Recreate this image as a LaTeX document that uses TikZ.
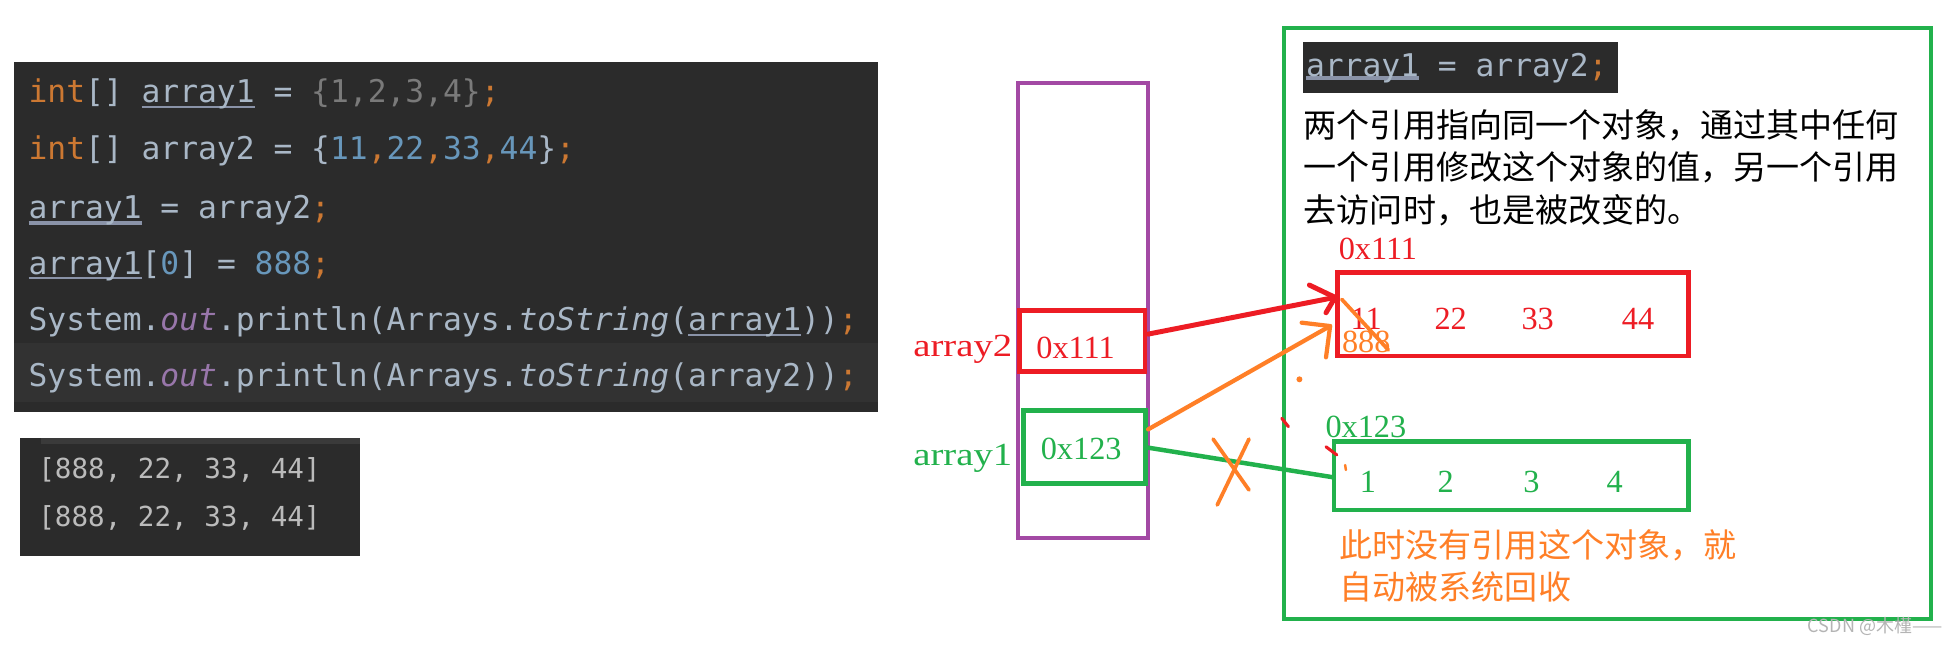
\documentclass[tikz,border=0pt]{standalone}
\usepackage{fontspec}
\usepackage{graphicx}
\newfontfamily\codefont{DejaVu Sans Mono}
\newfontfamily\lsfont{Liberation Serif}
\newfontfamily\cjk{Noto Sans CJK SC}
\definecolor{cbg}{HTML}{2B2B2B}
\definecolor{cband}{HTML}{323232}
\definecolor{cstrip}{HTML}{3A3A3A}
\definecolor{ctx}{HTML}{A9B7C6}
\definecolor{ckw}{HTML}{CC7832}
\definecolor{cnum}{HTML}{6897BB}
\definecolor{cpur}{HTML}{9876AA}
\definecolor{cgray}{HTML}{7A7A7A}
\definecolor{cul}{HTML}{8A93A8}
\definecolor{cout}{HTML}{BBBBBB}
\definecolor{pred}{HTML}{ED1C24}
\definecolor{pgreen}{HTML}{22B14C}
\definecolor{ppurple}{HTML}{A349A4}
\definecolor{porange}{HTML}{FF7F27}
\definecolor{wmark}{HTML}{B4B4B4}
\newcommand\myul[3]{\setbox0\hbox{#3}\rlap{\textcolor{cul}{\rule[-#1]{\wd0}{#2}}}\box0\relax}
\tikzset{
  code/.style={anchor=base west, inner sep=0pt, outer sep=0pt, font=\codefont\fontsize{25.2}{30}\selectfont, text=ctx},
  outtxt/.style={anchor=base west, inner sep=0pt, outer sep=0pt, font=\codefont\fontsize{22.2}{26}\selectfont, text=cout},
  lab/.style={anchor=base, inner sep=0pt, outer sep=0pt, font=\lsfont\fontsize{26}{30}\selectfont},
  cjktxt/.style={anchor=base west, inner sep=0pt, outer sep=0pt, font=\cjk\fontsize{26.6}{30}\selectfont},
  box/.style={draw=#1, line width=3.8pt, inner sep=0pt, outer sep=0pt, fill=none},
  hand/.style={line width=#1, line cap=round, line join=round},
}
\begin{document}
\begin{tikzpicture}[x=1pt,y=-1pt]
\useasboundingbox (0,0) rectangle (1570,519.3);
\fill[white] (0,0) rectangle (1570,519.3);

% ---- code panel ----
\fill[cbg] (11.6,49.7) rectangle (706.7,331.5);
\fill[cband] (11.6,276) rectangle (706.7,324);
\node[code] (c1) at (23,82.7) {{\color{ckw}int}[] \myul{4.2pt}{1.3pt}{array1} = {\color{cgray}\{1,2,3,4\}}{\color{ckw};}};
\node[code] (c2) at (23,128.6) {{\color{ckw}int}[] array2 = \{{\color{cnum}11}{\color{ckw},}{\color{cnum}22}{\color{ckw},}{\color{cnum}33}{\color{ckw},}{\color{cnum}44}\}{\color{ckw};}};
\node[code] (c3) at (23,175.6) {\myul{5.2pt}{2.8pt}{array1} = array2{\color{ckw};}};
\node[code] (c4) at (23,220.7) {\myul{4.0pt}{1.3pt}{array1}[{\color{cnum}0}] = {\color{cnum}888}{\color{ckw};}};
\node[code] (c5) at (23,266.2) {System.{\color{cpur}\itshape out}.println(Arrays.{\itshape toString}(\myul{4.4pt}{1.3pt}{array1})){\color{ckw};}};
\node[code] (c6) at (23,311.2) {System.{\color{cpur}\itshape out}.println(Arrays.{\itshape toString}(array2)){\color{ckw};}};

% ---- output panel ----
\fill[cbg] (16,353) rectangle (290,448);
\fill[cstrip] (33,353) rectangle (290,357.5);
\node[outtxt] (o1) at (30.9,385) {[888, 22, 33, 44]};
\node[outtxt] (o2) at (30.9,424) {[888, 22, 33, 44]};

% ---- right frame ----
\node[box=pgreen, line width=3.2pt, minimum width=520.7pt, minimum height=476.3pt] (frame) at (1294.15,260.35) {};
\fill[cbg] (1048.7,34) rectangle (1303,75);
\node[code] (snip) at (1051.5,61.5) {\myul{3pt}{3pt}{array1} = array2{\color{ckw};}};
\node[cjktxt, text=black] (t1) at (1049.8,110.7) {两个引用指向同一个对象，通过其中任何};
\node[cjktxt, text=black] (t2) at (1049.8,144.3) {一个引用修改这个对象的值，另一个引用};
\node[cjktxt, text=black] (t3) at (1049.8,179.1) {去访问时，也是被改变的。};
\node[cjktxt, text=porange] (g1) at (1078.7,449) {此时没有引用这个对象，就};
\node[cjktxt, text=porange] (g2) at (1078.7,482.5) {自动被系统回收};

% ---- stack ----
\node[box=ppurple, line width=3.2pt, minimum width=104.4pt, minimum height=366.6pt] (stack) at (872.1,249.9) {};
\node[box=pred, minimum width=101.2pt, minimum height=49.3pt] (ref2) at (871.3,274.65) {};
\node[box=pgreen, minimum width=98.5pt, minimum height=58.8pt] (ref1) at (873,359.9) {};
\node[lab, text=pred] (v2) at (866,288.8) {0x111};
\node[lab, text=pgreen] (v1) at (870.5,369.8) {0x123};
\node[lab, anchor=base east, text=pred] (n2) at (815,286.8) {\scalebox{1.2}[1]{array2}};
\node[lab, anchor=base east, text=pgreen] (n1) at (815,375) {\scalebox{1.2}[1]{array1}};

% ---- heap objects ----
\node[box=pred, minimum width=282.6pt, minimum height=67.3pt] (objB) at (1218,252.95) {};
\node[box=pgreen, minimum width=285.3pt, minimum height=55.3pt] (objA) at (1216.65,382.95) {};
\node[lab, text=pred] (addrB) at (1109.4,208.8) {0x111};
\node[lab, text=pgreen] (addrA) at (1099.7,352.1) {0x123};
\node[lab, text=pred] (b1) at (1100,265.5) {11};
\node[lab, text=pred] (b2) at (1168,265.5) {22};
\node[lab, text=pred] (b3) at (1238,265.5) {33};
\node[lab, text=pred] (b4) at (1318.8,265.5) {44};
\node[lab, text=porange] (b0) at (1100,284) {888};
\node[lab, text=pgreen] (a1) at (1101.3,396.4) {1};
\node[lab, text=pgreen] (a2) at (1164,396.4) {2};
\node[lab, text=pgreen] (a3) at (1233,396.4) {3};
\node[lab, text=pgreen] (a4) at (1300,396.4) {4};

% ---- connectors ----
\coordinate (r2s) at (924.4,269);
\coordinate (r2t) at (1074.9,239.4);
\coordinate (r2a) at (1054.2,229.5);
\coordinate (r2b) at (1067.6,251.8);
\draw[pred, hand=4pt] (r2s) -- (r2t);
\draw[pred, hand=4pt] (r2a) -- (r2t) -- (r2b);

\coordinate (r1s) at (924.4,345.7);
\coordinate (r1t) at (1070.9,262.5);
\coordinate (r1a) at (1048,259.8);
\coordinate (r1b) at (1067.6,287.7);
\draw[porange, hand=3.4pt] (r1s) -- (r1t);
\draw[porange, hand=3.4pt] (r1a) -- (r1t) -- (r1b);

\coordinate (g1s) at (923,360.2);
\coordinate (g1t) at (1073.5,384.3);
\draw[pgreen, hand=3.6pt, line cap=butt] (g1s) -- (g1t);

% cross over old reference
\coordinate (x1a) at (976.7,353.5);
\coordinate (x1b) at (1005.6,394.5);
\coordinate (x2a) at (1005.6,353.5);
\coordinate (x2b) at (980,406.6);
\draw[porange, hand=3pt] (x1a) -- (x1b);
\draw[porange, hand=3pt] (x2a) -- (x2b);

% strike through 11
\coordinate (s1) at (1080.3,241);
\coordinate (s2) at (1117.8,281.8);
\draw[porange, hand=3pt] (s1) -- (s2);

% small stray marks
\coordinate (m1a) at (1032,336.8);
\coordinate (m1b) at (1037.3,343.5);
\draw[pred, hand=2.5pt] (m1a) -- (m1b);
\coordinate (m2a) at (1067.6,359.7);
\coordinate (m2b) at (1076.3,366.3);
\draw[pred, hand=2.5pt] (m2a) -- (m2b);
\coordinate (m3a) at (1083,374.4);
\coordinate (m3b) at (1083.6,378.4);
\draw[porange, hand=2pt] (m3a) -- (m3b);
\fill[porange] (1046.2,305.4) circle (2.4);

% watermark
\node[anchor=base east, inner sep=0pt, font=\cjk\fontsize{14.5}{17}\selectfont, text=wmark] (wm) at (1564,509) {CSDN @木槿——};
\end{tikzpicture}
\end{document}
